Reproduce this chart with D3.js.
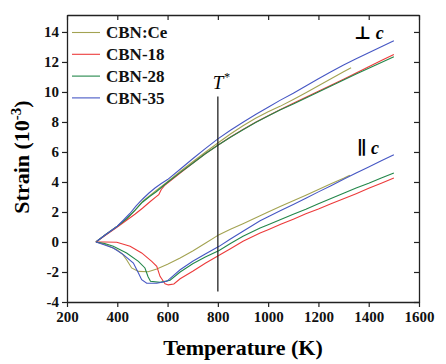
<!DOCTYPE html>
<html>
<head>
<meta charset="utf-8">
<script src="https://cdn.jsdelivr.net/npm/d3@7"></script>
<style>
  body { margin: 0; background: #fff; }
  text { font-family: "Liberation Serif", "DejaVu Serif", serif; }
</style>
</head>
<body>
<div id="chart"></div>
<script>
// series names + colours
var seriesNames = ["CBN:Ce", "CBN-18", "CBN-28", "CBN-35"];
var seriesColors = ["#a3a352", "#ec3b3b", "#23874a", "#4657c4"];

// strain perpendicular to c  [T (K), strain (1e-3)]
var perpCe = [[315,0],[350,0.45],[400,1.05],[437,1.55],[470,2.1],[500,2.7],[530,3.1],[560,3.5],[600,4.02],[650,4.7],[700,5.35],[750,5.98],[800,6.6],[850,7.2],[900,7.75],[950,8.25],[1000,8.68],[1047,9.04],[1100,9.5],[1150,9.95],[1200,10.42],[1250,10.88],[1300,11.35],[1330,11.62]];
var perp18 = [[315,0],[350,0.42],[400,1.0],[437,1.45],[470,1.85],[500,2.25],[530,2.68],[555,3.02],[565,3.15],[575,3.5],[590,3.8],[600,3.93],[650,4.6],[700,5.25],[750,5.88],[800,6.45],[850,7.0],[900,7.5],[950,7.98],[1000,8.42],[1047,8.82],[1100,9.25],[1150,9.65],[1200,10.05],[1250,10.45],[1300,10.85],[1350,11.26],[1400,11.68],[1450,12.1],[1500,12.5]];
var perp28 = [[315,0],[350,0.45],[400,1.05],[437,1.55],[470,2.1],[500,2.65],[530,3.05],[555,3.35],[600,3.98],[650,4.62],[700,5.25],[750,5.88],[800,6.45],[850,6.98],[900,7.48],[950,7.96],[1000,8.4],[1047,8.8],[1100,9.2],[1150,9.6],[1200,10.0],[1250,10.4],[1300,10.8],[1350,11.2],[1400,11.58],[1450,11.97],[1500,12.35]];
var perp35 = [[315,0],[350,0.45],[400,1.05],[424,1.45],[450,1.9],[475,2.4],[500,2.85],[525,3.25],[550,3.6],[575,3.9],[600,4.16],[650,4.85],[700,5.55],[750,6.22],[800,6.87],[850,7.45],[900,7.98],[950,8.5],[1000,8.98],[1047,9.44],[1100,9.92],[1150,10.4],[1200,10.88],[1250,11.35],[1300,11.8],[1350,12.22],[1400,12.62],[1450,13.02],[1500,13.42]];

// strain parallel to c
var parCe = [[315,0],[350,-0.15],[398,-0.51],[420,-0.8],[437,-1.18],[457,-1.73],[484,-1.96],[523,-1.98],[557,-1.8],[600,-1.48],[650,-1.07],[700,-0.6],[750,-0.08],[805,0.49],[850,0.85],[900,1.22],[968,1.75],[1000,2.0],[1050,2.38],[1100,2.75],[1150,3.12],[1200,3.5],[1250,3.88],[1300,4.25],[1325,4.45]];
var par18 = [[315,0],[350,0],[398,-0.02],[451,-0.29],[497,-0.73],[537,-1.29],[557,-1.62],[570,-2.29],[590,-2.78],[603,-2.86],[625,-2.8],[650,-2.45],[700,-1.95],[750,-1.42],[805,-0.89],[850,-0.45],[900,0.05],[968,0.6],[1000,0.82],[1050,1.18],[1100,1.52],[1150,1.88],[1200,2.2],[1250,2.55],[1300,2.88],[1350,3.22],[1400,3.58],[1450,3.92],[1500,4.27]];
var par28 = [[315,0],[350,-0.1],[384,-0.29],[437,-0.73],[484,-1.29],[510,-1.73],[522,-2.3],[532,-2.62],[570,-2.69],[610,-2.55],[650,-2.0],[700,-1.45],[750,-1.0],[805,-0.56],[850,-0.1],[900,0.38],[968,0.93],[1000,1.15],[1050,1.5],[1100,1.85],[1150,2.18],[1200,2.55],[1250,2.9],[1300,3.25],[1350,3.6],[1400,3.92],[1450,4.27],[1500,4.6]];
var par35 = [[315,0],[350,-0.2],[384,-0.4],[424,-0.84],[464,-1.4],[484,-2.07],[497,-2.51],[517,-2.75],[557,-2.75],[597,-2.62],[650,-1.85],[700,-1.28],[750,-0.8],[805,-0.29],[850,0.2],[900,0.72],[968,1.42],[1000,1.68],[1050,2.1],[1100,2.5],[1150,2.92],[1200,3.34],[1250,3.75],[1300,4.18],[1350,4.6],[1400,5.0],[1450,5.42],[1500,5.82]];

var xTicks = [200, 400, 600, 800, 1000, 1200, 1400, 1600];
var yTicks = [-4, -2, 0, 2, 4, 6, 8, 10, 12, 14];
var tStar = 800;
var tStarRange = [-3.3, 9.7];

var perpSeries = [perpCe, perp18, perp28, perp35];
var parSeries = [parCe, par18, par28, par35];

var width = 446, height = 364;
var margin = { top: 15, right: 27, bottom: 62, left: 67 };

var x = d3.scaleLinear()
  .domain([200, 1600])
  .range([margin.left, width - margin.right]);

var y = d3.scaleLinear()
  .domain([-4, 15.13])
  .range([height - margin.bottom, margin.top]);

var svg = d3.select("#chart").append("svg")
  .attr("width", width)
  .attr("height", height);

var line = d3.line()
  .x(d => x(d[0]))
  .y(d => y(d[1]));

// curves
svg.append("g")
  .attr("fill", "none")
  .attr("stroke-width", 1.1)
  .selectAll("path")
  .data(perpSeries.map((s, i) => ({ s: s, i: i })).concat(parSeries.map((s, i) => ({ s: s, i: i }))))
  .join("path")
  .attr("stroke", d => seriesColors[d.i])
  .attr("d", d => line(d.s));

// T* line
svg.append("line")
  .attr("x1", x(tStar)).attr("x2", x(tStar))
  .attr("y1", y(tStarRange[0])).attr("y2", y(tStarRange[1]))
  .attr("stroke", "#222")
  .attr("stroke-width", 1.3);

svg.append("text")
  .attr("x", x(tStar) - 5)
  .attr("y", y(tStarRange[1]) - 7)
  .style("font-size", "19px")
  .style("font-style", "italic")
  .text("T")
  .append("tspan")
  .attr("dy", -8)
  .style("font-size", "12px")
  .text("*");

// axes
function styleAxis(g) {
  g.select(".domain").attr("stroke", "#222").attr("stroke-width", 1.3);
  g.selectAll(".tick line").attr("stroke", "#222").attr("stroke-width", 1.2);
  g.selectAll(".tick text")
    .attr("fill", "#111")
    .style("font-size", "15px")
    .style("font-weight", "bold")
    .style("font-family", "'Liberation Serif', serif");
}

svg.append("g")
  .attr("transform", `translate(0,${height - margin.bottom})`)
  .call(d3.axisBottom(x).tickValues(xTicks).tickSize(5).tickSizeOuter(0).tickPadding(4).tickFormat(d3.format("d")))
  .call(styleAxis);

svg.append("g")
  .attr("transform", `translate(0,${margin.top})`)
  .call(d3.axisTop(x).tickValues(xTicks).tickSize(-5).tickSizeOuter(0).tickFormat(""))
  .call(styleAxis);

svg.append("g")
  .attr("transform", `translate(${margin.left},0)`)
  .call(d3.axisLeft(y).tickValues(yTicks).tickSize(5).tickSizeOuter(0).tickPadding(3).tickFormat(d => d < 0 ? "-" + Math.abs(d) : d))
  .call(styleAxis);

svg.append("g")
  .attr("transform", `translate(${width - margin.right},0)`)
  .call(d3.axisRight(y).tickValues(yTicks).tickSize(-5).tickSizeOuter(0).tickFormat(""))
  .call(styleAxis);

// axis titles
svg.append("text")
  .attr("x", (margin.left + width - margin.right) / 2)
  .attr("y", 355)
  .attr("text-anchor", "middle")
  .style("font-size", "22px")
  .style("font-weight", "bold")
  .text("Temperature (K)");

var yt = svg.append("text")
  .attr("transform", `translate(29,157) rotate(-90)`)
  .attr("text-anchor", "middle")
  .style("font-size", "22px")
  .style("font-weight", "bold");
yt.append("tspan").text("Strain (10");
yt.append("tspan").attr("dy", -8).style("font-size", "15px").text("-3");
yt.append("tspan").attr("dy", 8).text(")");

// orientation labels
var perpLabel = svg.append("text")
  .attr("x", 354).attr("y", 39)
  .style("font-size", "18px")
  .style("font-weight", "bold");
perpLabel.append("tspan").text("\u22A5 ");
perpLabel.append("tspan").style("font-style", "italic").text("c");

var parLabel = svg.append("text")
  .attr("x", 357).attr("y", 154)
  .style("font-size", "18px")
  .style("font-weight", "bold");
parLabel.append("tspan").text("\u2225 ");
parLabel.append("tspan").style("font-style", "italic").text("c");

// legend
var legend = svg.append("g")
  .selectAll("g")
  .data(seriesNames)
  .join("g")
  .attr("transform", (d, i) => `translate(72,${32.5 + i * 21.8})`);

legend.append("line")
  .attr("x1", 0).attr("x2", 28)
  .attr("stroke", (d, i) => seriesColors[i])
  .attr("stroke-width", 1.1);

legend.append("text")
  .attr("x", 34)
  .attr("dy", "0.35em")
  .style("font-size", "17px")
  .style("font-weight", "bold")
  .attr("fill", "#111")
  .text(d => d);
</script>
</body>
</html>
